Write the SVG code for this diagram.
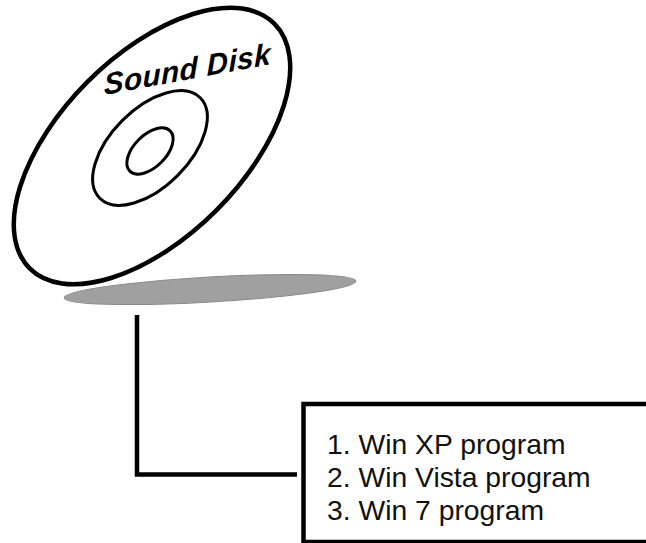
<svg xmlns="http://www.w3.org/2000/svg" width="646" height="543" viewBox="0 0 646 543">
  <style>
    .ring { fill: none; stroke: #000; }
    .label { font-family: "Liberation Sans", Arial, sans-serif; font-size: 28.3px; fill: #111; }
    .title { font-family: "Liberation Sans", Arial, sans-serif; font-size: 30px; font-weight: bold; font-style: italic; letter-spacing: 0.5px; fill: #000; }
    .wire { fill: none; stroke: #000; stroke-width: 4.5; }
  </style>
  <rect width="646" height="543" fill="#fff"/>

  <!-- shadow under the disc -->
  <g id="shadow">
    <ellipse cx="210" cy="289.5" rx="146" ry="12.5" transform="rotate(-3.3 210 289.5)" fill="#a0a0a0" stroke="#8a8a8a" stroke-width="1"/>
  </g>

  <!-- tilted disc -->
  <g id="disk">
    <ellipse class="ring" cx="152" cy="146" rx="173" ry="91" stroke-width="4.5" transform="rotate(-45 152 146)"/>
    <ellipse class="ring" cx="150" cy="148" rx="71" ry="39" stroke-width="3" transform="rotate(-45 150 148)"/>
    <ellipse class="ring" cx="150" cy="151" rx="28.5" ry="16" stroke-width="3" transform="rotate(-45 150 151)"/>
    <text class="title" x="0" y="0" transform="translate(104 95) rotate(-10.5) skewX(-10)">Sound Disk</text>
  </g>

  <!-- connector from disc to program list -->
  <g id="connectors">
    <polyline class="wire" points="137,315 137,474.5 297,474.5"/>
  </g>

  <!-- program list -->
  <g id="programs">
    <rect x="303.5" y="404" width="360" height="138" fill="#fff" stroke="#000" stroke-width="4.5"/>
    <text class="label" x="327" y="454">1. Win XP program</text>
    <text class="label" x="327" y="487">2. Win Vista program</text>
    <text class="label" x="327" y="520">3. Win 7 program</text>
  </g>
</svg>
